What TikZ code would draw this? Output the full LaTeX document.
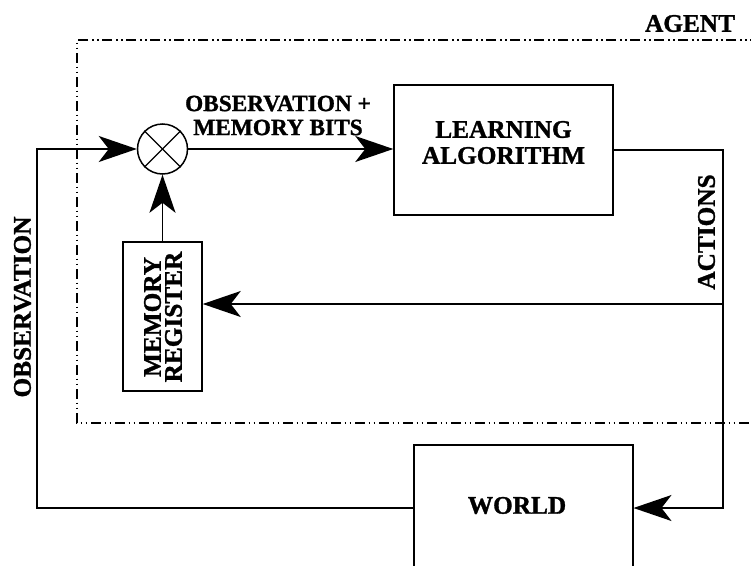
\documentclass[tikz,border=0pt]{standalone}
\usepackage{fontspec}
\setmainfont{Liberation Serif}[BoldFeatures={FakeBold=1.2}]
\usetikzlibrary{arrows.meta}
\tikzset{
  x=1pt, y=-1pt,
  wire/.style={line width=1.5pt},
  arr/.style={wire, -{Stealth[length=38pt,width=26pt,inset=10pt]}},
  blockbox/.style={draw, line width=1.5pt, inner sep=0pt},
  lbl/.style={inner sep=0pt, align=center, font=\fontsize{25.3}{26}\selectfont\bfseries},
  agentframe/.style={line width=1.2pt, dash pattern=on 10pt off 3.5pt on 1.5pt off 3.5pt on 1.5pt off 4pt},
}
\begin{document}
\begin{tikzpicture}
\useasboundingbox (0,0) rectangle (751,565);
\clip (0,0) rectangle (751,565);

% agent boundary, open to the right
\draw[agentframe] (760,40) -- (77,40) -- (77,423) -- (760,423);
\node[lbl] (agent) at (690,23.5) {AGENT};

% blocks
\node[blockbox, minimum width=219pt, minimum height=130pt] (learn) at (503.5,150) {};
\node[lbl] (learntxt) at (503.5,142.5) {LEARNING\\ALGORITHM};

\node[blockbox, minimum width=79pt, minimum height=149pt] (mem) at (162.5,316.5) {};
\node[lbl, rotate=90, font=\fontsize{25.3}{21}\selectfont\bfseries] (memtxt) at (163,317) {MEMORY\\REGISTER};

\node[blockbox, anchor=north west, minimum width=219pt, minimum height=160pt] (world) at (413,444) {};
\node[lbl] (worldtxt) at (517,505.5) {WORLD};

% combiner
\node[draw, circle, line width=1.5pt, minimum size=50pt, inner sep=0pt] (mix) at (162.5,149) {};
\draw[line width=1.2pt] (mix.north west) -- (mix.south east);
\draw[line width=1.2pt] (mix.north east) -- (mix.south west);

% connector corners
\coordinate (rtop) at (723,150);
\coordinate (rmid) at (723,304);
\coordinate (rbot) at (723,508);
\coordinate (lbot) at (37,508);
\coordinate (ltop) at (37,149);

% connectors
\draw[arr] (mix.east) -- (mix.east -| learn.west);
\draw[arr] (learn.east |- rtop) -- (rtop) -- (rbot) -- (rbot -| world.east);
\draw[arr] (rmid) -- (rmid -| mem.east);
\draw[arr] (mem.north) -- (mix.south);
\draw[arr] (rbot -| world.west) -- (lbot) -- (ltop) -- (mix.west);

% connector labels
\node[lbl, font=\fontsize{23.3}{24}\selectfont\bfseries] (obsmem) at (278,115.5) {OBSERVATION +\\MEMORY BITS};
\node[lbl, rotate=90] (actions) at (706.5,232) {ACTIONS};
\node[lbl, rotate=90] (observation) at (22.5,307) {OBSERVATION};
\end{tikzpicture}
\end{document}
